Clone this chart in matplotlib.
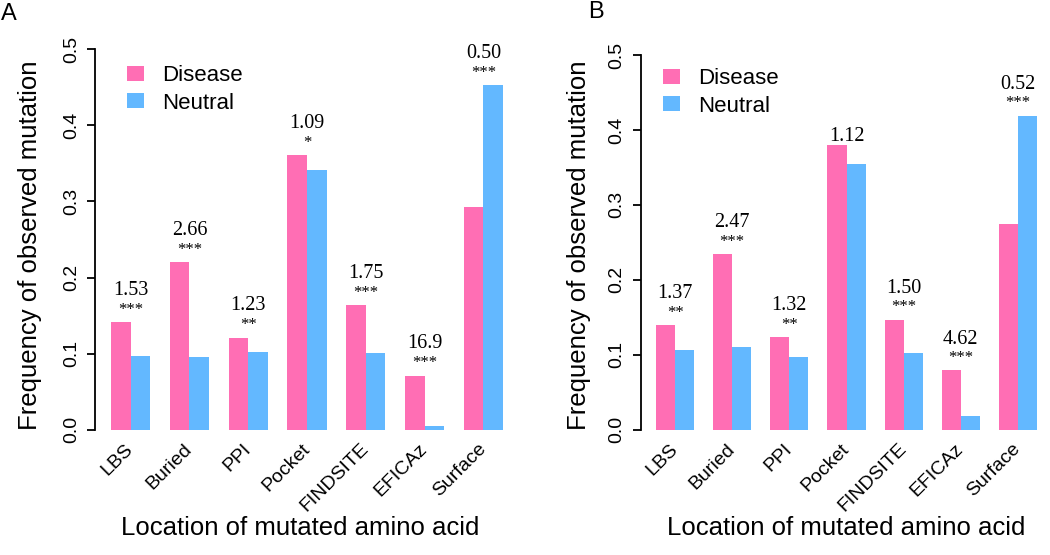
import matplotlib
matplotlib.use("Agg")
import matplotlib.pyplot as plt
import numpy as np

plt.rcParams['font.family'] = ['Liberation Sans', 'DejaVu Sans']

categories = ['LBS', 'Buried', 'PPI', 'Pocket', 'FINDSITE', 'EFICAz', 'Surface']

a_disease = [0.141, 0.220, 0.121, 0.361, 0.164, 0.071, 0.293]
a_neutral = [0.097, 0.096, 0.102, 0.342, 0.101, 0.005, 0.453]
a_ratio = ['1.53', '2.66', '1.23', '1.09', '1.75', '16.9', '0.50']
a_stars = ['***', '***', '**', '*', '***', '***', '***']

b_disease = [0.140, 0.234, 0.124, 0.380, 0.147, 0.079, 0.275]
b_neutral = [0.106, 0.110, 0.097, 0.354, 0.103, 0.018, 0.419]
b_ratio = ['1.37', '2.47', '1.32', '1.12', '1.50', '4.62', '0.52']
b_stars = ['**', '***', '**', '', '***', '***', '***']

pink = '#FF6EB4'
blue = '#63B8FF'

W, H = 1050, 555
fig = plt.figure(figsize=(W / 100, H / 100), dpi=100)


def px(x0, y0, x1, y1):
    # pixel box (top-left origin) -> figure fraction rect
    return [x0 / W, 1 - y1 / H, (x1 - x0) / W, (y1 - y0) / H]


def panel(rect, disease, neutral, ratio, stars, leg_xy, ylab_x, xlab_x):
    ax = fig.add_axes(rect)
    idx = np.arange(len(categories))
    grp = 2 + 3 * idx
    b1 = ax.bar(grp - 0.5, disease, width=1, color=pink, label='Disease')
    b2 = ax.bar(grp + 0.5, neutral, width=1, color=blue, label='Neutral')
    ax.set_xlim(0.2, 21.8)
    ax.set_ylim(0, 0.5)
    for s in ['top', 'right', 'bottom']:
        ax.spines[s].set_visible(False)
    ax.spines['left'].set_linewidth(1.3)
    ax.set_yticks([0, 0.1, 0.2, 0.3, 0.4, 0.5])
    ax.set_yticklabels(['0.0', '0.1', '0.2', '0.3', '0.4', '0.5'],
                       rotation=90, va='center', fontsize=14)
    ax.tick_params(axis='y', length=6, width=1.3, pad=5)
    ax.set_xticks(grp)
    ax.set_xticklabels(categories, rotation=45, ha='right', va='center',
                       rotation_mode='anchor', fontsize=14)
    ax.tick_params(axis='x', length=0, pad=12)

    for g, d, n, r, st in zip(grp, disease, neutral, ratio, stars):
        top = max(d, n)
        if st:
            ax.text(g, top + 0.011, st, ha='center', va='baseline',
                    family='Liberation Serif', fontsize=12)
            ax.text(g, top + 0.036, r, ha='center', va='baseline',
                    family='Liberation Serif', fontsize=14.5)
        else:
            ax.text(g, top + 0.005, r, ha='center', va='baseline',
                    family='Liberation Serif', fontsize=14.5)

    ax.legend(handles=[b1, b2], loc='upper left',
              bbox_to_anchor=(leg_xy[0] / W, 1 - leg_xy[1] / H),
              bbox_transform=fig.transFigure, frameon=False, fontsize=16,
              borderaxespad=0, borderpad=0, handlelength=0.75,
              handleheight=0.65, handletextpad=0.85, labelspacing=0.3)

    fig.text(ylab_x / W, 1 - 245 / H, 'Frequency of observed mutation',
             rotation=90, ha='center', va='center', fontsize=18.5)
    fig.text(xlab_x / W, 1 - 535 / H, 'Location of mutated amino acid',
             ha='center', va='baseline', fontsize=18.5)
    return ax


panel(px(95.3, 49.3, 518.7, 429.7), a_disease, a_neutral, a_ratio, a_stars,
      (127, 65), 30, 300)
panel(px(640.8, 55, 1052.2, 429.7), b_disease, b_neutral, b_ratio, b_stars,
      (663, 68), 579, 846)

fig.text(1 / W, 1 - 20 / H, 'A', va='baseline', fontsize=17)
fig.text(588 / W, 1 - 18 / H, 'B', va='baseline', fontsize=17)

fig.savefig('out.png', dpi=100)
